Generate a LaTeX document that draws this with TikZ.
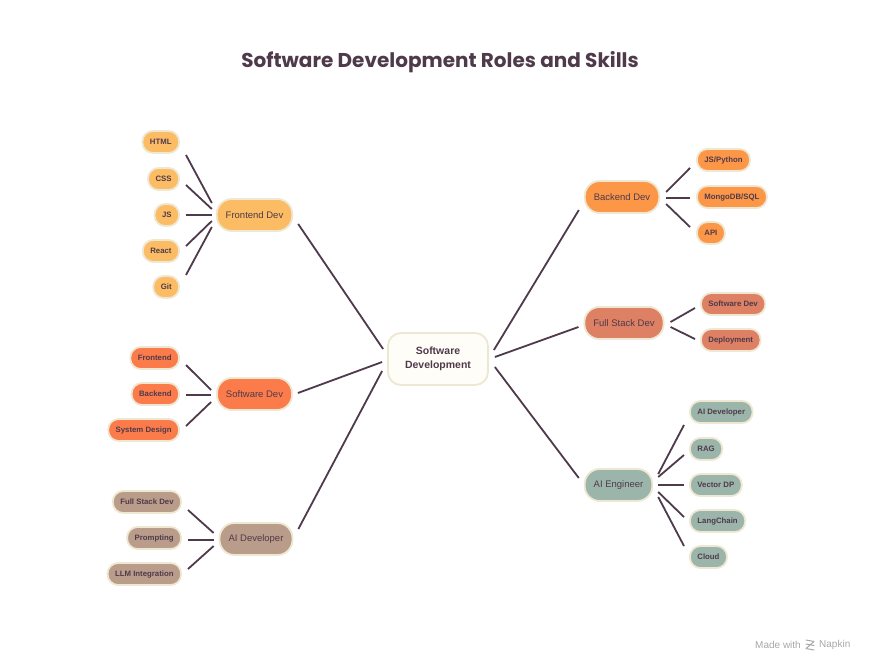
\documentclass[tikz,border=0pt]{standalone}
\usepackage{fontspec}
\setmainfont{Liberation Sans}
\newfontfamily\titlefont{Poppins}
\usetikzlibrary{calc}
\definecolor{ink}{HTML}{4F3A4B}
\definecolor{cream}{HTML}{EEE7D2}
\definecolor{centerfill}{HTML}{FFFDF8}
\definecolor{fecol}{HTML}{FBBC63}
\definecolor{sdcol}{HTML}{FB7C4A}
\definecolor{adcol}{HTML}{B99C8A}
\definecolor{bdcol}{HTML}{FD9748}
\definecolor{fscol}{HTML}{DD8064}
\definecolor{aecol}{HTML}{9BB5AB}
\definecolor{wm}{HTML}{A8A8A8}
\newcommand\lnk[4]{\draw[link] ($(#1)+(#2)$) -- ($(#3)+(#4)$);}
\begin{document}
\begin{tikzpicture}[x=1pt,y=-1pt,
  base/.style={draw=cream, line width=1.8pt, text=ink, align=center},
  leaf/.style={base, rounded corners=10.5pt, minimum height=22pt, inner xsep=7.5pt, inner ysep=0pt, font=\bfseries\fontsize{7.8}{9}\selectfont},
  role/.style={base, rounded corners=15pt, minimum height=32pt, inner xsep=9pt, inner ysep=0pt, font=\fontsize{9.5}{11}\selectfont},
  hub/.style={base, fill=centerfill, rounded corners=13pt, minimum width=100pt, minimum height=52pt, font=\bfseries\fontsize{10.5}{14}\selectfont},
  link/.style={draw=ink, line width=1.8pt}]
\useasboundingbox (0,0) rectangle (881,672);
\fill[white] (0,0) rectangle (881,672);

\node[text=ink, font=\titlefont\bfseries\fontsize{20}{24}\selectfont] (title) at (440,62) {Software Development Roles and Skills};

\node[hub] (c) at (438,359) {Software\\Development};

% left roles
\node[role, fill=fecol] (fe) at (254.5,215) {Frontend Dev};
\node[role, fill=sdcol] (sd) at (254.5,394) {Software Dev};
\node[role, fill=adcol] (ad) at (256,539) {AI Developer};
% right roles
\node[role, fill=bdcol] (bd) at (622,197) {Backend Dev};
\node[role, fill=fscol] (fs) at (624,323) {Full Stack Dev};
\node[role, fill=aecol] (ae) at (618.5,485) {AI Engineer};

% frontend leaves
\node[leaf, fill=fecol, anchor=east] (html) at (180,142) {HTML};
\node[leaf, fill=fecol, anchor=east] (css) at (180,179) {CSS};
\node[leaf, fill=fecol, anchor=east] (js) at (180,215) {JS};
\node[leaf, fill=fecol, anchor=east] (react) at (180,251) {React};
\node[leaf, fill=fecol, anchor=east] (git) at (180,287) {Git};
% software dev leaves
\node[leaf, fill=sdcol, anchor=east] (sfe) at (180,358) {Frontend};
\node[leaf, fill=sdcol, anchor=east] (sbe) at (180,394) {Backend};
\node[leaf, fill=sdcol, anchor=east] (ssd) at (180,430) {System Design};
% ai developer leaves
\node[leaf, fill=adcol, anchor=east] (afs) at (182,502) {Full Stack Dev};
\node[leaf, fill=adcol, anchor=east] (apr) at (182,538) {Prompting};
\node[leaf, fill=adcol, anchor=east] (allm) at (182,574) {LLM Integration};
% backend leaves
\node[leaf, fill=bdcol, anchor=west] (bjs) at (696,160) {JS/Python};
\node[leaf, fill=bdcol, anchor=west] (bdb) at (696,197) {MongoDB/SQL};
\node[leaf, fill=bdcol, anchor=west] (bapi) at (696,233) {API};
% full stack leaves
\node[leaf, fill=fscol, anchor=west] (fsd) at (700,304) {Software Dev};
\node[leaf, fill=fscol, anchor=west] (fdp) at (700,340) {Deployment};
% ai engineer leaves
\node[leaf, fill=aecol, anchor=west] (eai) at (689,412) {AI Developer};
\node[leaf, fill=aecol, anchor=west] (erag) at (689,449) {RAG};
\node[leaf, fill=aecol, anchor=west] (evd) at (689,485) {Vector DP};
\node[leaf, fill=aecol, anchor=west] (elc) at (689,521) {LangChain};
\node[leaf, fill=aecol, anchor=west] (ecl) at (689,557) {Cloud};

% hub links
\lnk{fe.east}{5,9}{c.west}{-4,-10}
\lnk{sd.east}{5,-1}{c.west}{-5,3}
\lnk{ad.east}{5,-10}{c.west}{-5,12}
\lnk{c.east}{5,-9}{bd.west}{-5,13}
\lnk{c.east}{6,-2}{fs.west}{-5,4}
\lnk{c.east}{6,8}{ae.west}{-5,-7}

% frontend links
\lnk{html.east}{6,13}{fe.west}{-4,-12}
\lnk{css.east}{6,6}{fe.west}{-4,-6}
\lnk{js.east}{6,0}{fe.west}{-4,0}
\lnk{react.east}{6,-5}{fe.west}{-4,6}
\lnk{git.east}{6,-12}{fe.west}{-4,12}
% software dev links
\lnk{sfe.east}{6,7}{sd.west}{-5,-4}
\lnk{sbe.east}{6,1}{sd.west}{-5,1}
\lnk{ssd.east}{6,-4}{sd.west}{-5,8}
% ai developer links
\lnk{afs.east}{6,8}{ad.west}{-5,-6}
\lnk{apr.east}{6,2}{ad.west}{-5,1}
\lnk{allm.east}{6,-5}{ad.west}{-5,7}
% backend links
\lnk{bd.east}{6,-5}{bjs.west}{-6,8}
\lnk{bd.east}{6,1}{bdb.west}{-6,1}
\lnk{bd.east}{6,7}{bapi.west}{-6,-6}
% full stack links
\lnk{fs.east}{6,-1}{fsd.west}{-5,4}
\lnk{fs.east}{6,4}{fdp.west}{-5,-1}
% ai engineer links
\lnk{ae.east}{5,-11}{eai.west}{-5,13}
\lnk{ae.east}{5,-8}{erag.west}{-5,6}
\lnk{ae.east}{5,0}{evd.west}{-5,0}
\lnk{ae.east}{5,7}{elc.west}{-5,-4}
\lnk{ae.east}{5,12}{ecl.west}{-5,-11}

% watermark
\node[text=wm, font=\fontsize{10}{12}\selectfont, anchor=east, inner sep=0pt] (made) at (801,645) {Made with};
\coordinate (logo) at (810,645);
\draw[wm, line width=1pt, line cap=round]
  ($(logo)+(-4,-5)$) -- ($(logo)+(4,-3.5)$)
  ($(logo)+(-4,-1)$) -- ($(logo)+(4,0.5)$)
  ($(logo)+(4,-3.5)$) -- ($(logo)+(-4,3.5)$)
  ($(logo)+(-4,3.5)$) -- ($(logo)+(4,5)$);
\node[text=wm, font=\fontsize{10}{12}\selectfont, anchor=west, inner sep=0pt] (napkin) at (819,645) {Napkin};
\end{tikzpicture}
\end{document}
